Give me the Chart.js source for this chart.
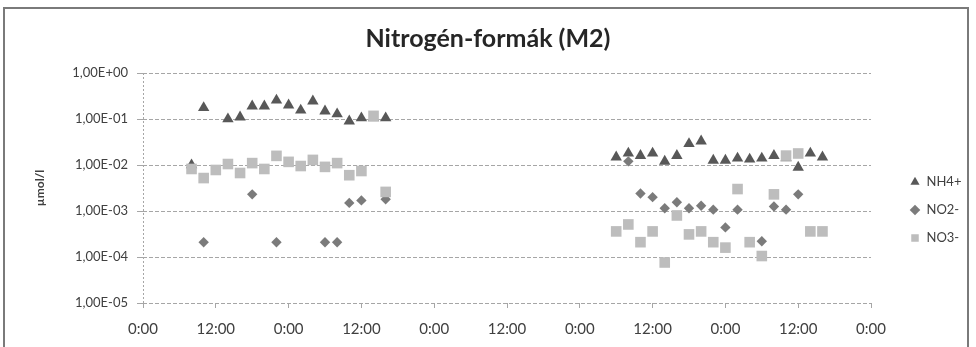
<!DOCTYPE html>
<html>
<head>
<meta charset="utf-8">
<script src="https://cdn.jsdelivr.net/npm/chart.js@4.4.1/dist/chart.umd.min.js"></script>
<style>
  html, body { margin: 0; padding: 0; background: #ffffff; }
  #wrap { position: relative; width: 976px; height: 347px; overflow: hidden; }
  #frame { position: absolute; left: 3px; top: 7px; width: 966px; height: 400px; border: 2px solid #7a7a7a; box-sizing: border-box; }
  canvas { position: absolute; left: 0; top: 0; }
</style>
</head>
<body>
<div id="wrap">
  <div id="frame"></div>
  <canvas id="c" width="976" height="347"></canvas>
</div>
<script>
// ---- data (hours from start of record) ----
const hours = [8, 10, 12, 14, 16, 18, 20, 22, 24, 26, 28, 30, 32, 34, 36, 38, 40,
               78, 80, 82, 84, 86, 88, 90, 92, 94, 96, 98, 100, 102, 104, 106, 108, 110, 112];
const nh4 = [0.0100, 0.175, null, 0.100, 0.110, 0.190, 0.190, 0.255, 0.200, 0.155, 0.245, 0.148, 0.128, 0.090, 0.105, 0.105, 0.105,
             0.0148, 0.0180, 0.0160, 0.0180, 0.0120, 0.0160, 0.0290, 0.0330, 0.0126, 0.0126, 0.0140, 0.0133, 0.0140, 0.0160, 0.0142, 0.0089, 0.0180, 0.0148];
const no2 = [null, 0.00021, null, null, null, 0.0023, null, 0.00021, null, null, null, 0.00021, 0.00021, 0.0015, 0.0017, null, 0.0018,
             null, 0.012, 0.0024, 0.0020, 0.00115, 0.00155, 0.00115, 0.0013, 0.00107, 0.00044, 0.00107, null, 0.00022, 0.00125, 0.00107, 0.0023, null, null];
const no3 = [0.0082, 0.0052, 0.0078, 0.0105, 0.0067, 0.0110, 0.0082, 0.0158, 0.0117, 0.0095, 0.0129, 0.0091, 0.0110, 0.0060, 0.0074, 0.117, 0.0026,
             0.00036, 0.00051, 0.00021, 0.00036, 0.000076, 0.0008, 0.00031, 0.00036, 0.00021, 0.00016, 0.0030, 0.00021, 0.000105, 0.0023, 0.016, 0.0178, 0.00036, 0.00036];

const seriesNames = ['NH4+', 'NO2-', 'NO3-'];
const xTickValues = [0, 12, 24, 36, 48, 60, 72, 84, 96, 108, 120];
const xTickLabels = ['0:00', '12:00', '0:00', '12:00', '0:00', '12:00', '0:00', '12:00', '0:00', '12:00', '0:00'];
const yTickValues = [1e-5, 1e-4, 1e-3, 1e-2, 1e-1, 1];
const yTickLabels = ['1,00E-05', '1,00E-04', '1,00E-03', '1,00E-02', '1,00E-01', '1,00E+00'];

function pts(arr) {
  const out = [];
  hours.forEach((h, i) => { if (arr[i] !== null) out.push({ x: h, y: arr[i] }); });
  return out;
}

const FONT = 'Lato, "Open Sans", "DejaVu Sans", sans-serif';
const gridCol = '#a6a6a6';

const legendPlacer = {
  id: 'legendPlacer',
  beforeLayout(chart) {
    const lg = chart.legend;
    if (lg && !lg.__patched) {
      const orig = lg.fit;
      lg.fit = function () { orig.call(this); this.width = 105; };
      lg.__patched = true;
    }
  },
  afterLayout(chart) {
    const lg = chart.legend;
    if (!lg) return;
    const w = lg.right - lg.left, h = lg.bottom - lg.top;
    lg.left = 895; lg.right = lg.left + w;
    lg.top = 160.5; lg.bottom = lg.top + h;
  }
};

new Chart(document.getElementById('c'), {
  type: 'scatter',
  data: {
    datasets: [
      { label: seriesNames[0], data: pts(nh4), pointStyle: 'triangle', pointRadius: 6.6, pointHoverRadius: 6.6,
        backgroundColor: '#585858', borderColor: '#585858', borderWidth: 0, order: 3 },
      { label: seriesNames[1], data: pts(no2), pointStyle: 'rectRot', pointRadius: 5.2, pointHoverRadius: 5.2,
        backgroundColor: '#7b7b7b', borderColor: '#7b7b7b', borderWidth: 0, order: 2 },
      { label: seriesNames[2], data: pts(no3), pointStyle: 'rect', pointRadius: 7.5, pointHoverRadius: 7.5,
        backgroundColor: '#bdbdbd', borderColor: '#bdbdbd', borderWidth: 0, order: 1 }
    ]
  },
  options: {
    responsive: false,
    animation: false,
    devicePixelRatio: 1,
    layout: { padding: { left: 0, right: 0, top: 0, bottom: 0 } },
    plugins: {
      title: {
        display: true,
        text: 'Nitrogén-formák (M2)',
        color: '#262626',
        font: { family: FONT, size: 25, weight: 'bold' },
        padding: { top: 23.5, bottom: 19.5 }
      },
      legend: {
        display: true,
        position: 'right',
        align: 'start',
        labels: {
          usePointStyle: true,
          boxWidth: 10,
          boxHeight: 7.5,
          padding: 15,
          color: '#404040',
          font: { family: FONT, size: 13 },
          sort: (a, b) => a.datasetIndex - b.datasetIndex
        }
      },
      tooltip: { enabled: false }
    },
    scales: {
      x: {
        type: 'linear',
        min: 0, max: 120,
        afterBuildTicks: (s) => { s.ticks = xTickValues.map(v => ({ value: v })); },
        afterFit: (s) => { s.height = 44; },
        ticks: {
          autoSkip: false, maxRotation: 0, padding: 12,
          color: '#404040',
          font: { family: FONT, size: 15 },
          callback: (v, i) => xTickLabels[i]
        },
        grid: {
          drawOnChartArea: true,
          color: (ctx) => (ctx.index === 0 ? gridCol : 'rgba(0,0,0,0)'),
          tickColor: gridCol,
          tickLength: 5,
          lineWidth: 1
        },
        border: { display: false, dash: [2, 2] }
      },
      y: {
        type: 'logarithmic',
        min: 1e-5, max: 1,
        afterBuildTicks: (s) => { s.ticks = yTickValues.map(v => ({ value: v })); },
        afterFit: (s) => { s.width = 143; },
        ticks: {
          autoSkip: false, padding: 9,
          color: '#404040',
          font: { family: FONT, size: 13 },
          callback: (v, i) => yTickLabels[i]
        },
        grid: { color: gridCol, tickColor: gridCol, tickLength: 6, lineWidth: 1 },
        border: { display: false, dash: [4, 2] },
        title: {
          display: true,
          text: 'µmol/l',
          color: '#404040',
          font: { family: FONT, size: 12, weight: 'bold' },
          padding: { top: 33, bottom: 0 }
        }
      }
    }
  },
  plugins: [legendPlacer]
});
</script>
</body>
</html>
